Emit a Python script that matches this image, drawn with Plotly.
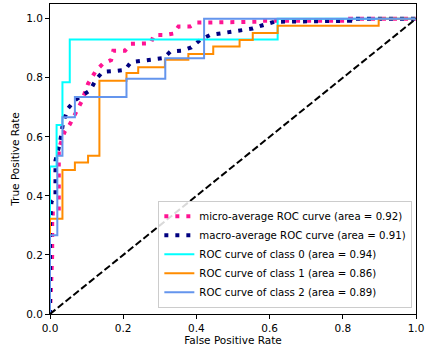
import plotly.graph_objects as go

# ---- data ----
micro_fpr = [0, 0.006, 0.006, 0.024, 0.024, 0.04, 0.054, 0.075, 0.088, 0.104, 0.126, 0.144, 0.167, 0.173, 0.205, 0.221, 0.243, 0.275, 0.284, 0.314, 0.338, 0.351, 0.383, 0.40, 0.576, 0.58, 0.82, 0.82, 1.0]
micro_tpr = [0, 0.20, 0.34, 0.34, 0.56, 0.617, 0.642, 0.696, 0.724, 0.78, 0.825, 0.847, 0.86, 0.892, 0.892, 0.915, 0.917, 0.917, 0.945, 0.945, 0.95, 0.974, 0.974, 0.987, 0.99, 0.993, 0.993, 1.0, 1.0]

macro_fpr = [0, 0.0, 0.004, 0.015, 0.015, 0.027, 0.036, 0.049, 0.068, 0.11, 0.126, 0.144, 0.176, 0.205, 0.221, 0.252, 0.279, 0.311, 0.329, 0.36, 0.386, 0.41, 0.437, 0.467, 0.495, 0.527, 0.554, 0.581, 0.613, 0.82, 0.82, 1.0]
macro_tpr = [0, 0.30, 0.38, 0.40, 0.52, 0.578, 0.65, 0.696, 0.724, 0.758, 0.795, 0.82, 0.823, 0.827, 0.853, 0.859, 0.861, 0.867, 0.889, 0.892, 0.903, 0.928, 0.945, 0.95, 0.956, 0.96, 0.967, 0.978, 0.99, 0.993, 1.0, 1.0]

class0_fpr = [0, 0, 0.018, 0.018, 0.034, 0.034, 0.054, 0.054, 0.622, 0.622, 1.0]
class0_tpr = [0, 0.5, 0.5, 0.64, 0.64, 0.785, 0.785, 0.93, 0.93, 1.0, 1.0]

class1_fpr = [0, 0, 0.034, 0.034, 0.068, 0.068, 0.104, 0.104, 0.135, 0.135, 0.209, 0.209, 0.241, 0.241, 0.314, 0.314, 0.378, 0.378, 0.446, 0.446, 0.518, 0.518, 0.554, 0.554, 0.622, 0.622, 0.898, 0.898, 1.0]
class1_tpr = [0, 0.323, 0.323, 0.488, 0.488, 0.513, 0.513, 0.536, 0.536, 0.79, 0.79, 0.816, 0.816, 0.836, 0.836, 0.861, 0.861, 0.881, 0.881, 0.906, 0.906, 0.928, 0.928, 0.952, 0.952, 0.976, 0.976, 1.0, 1.0]

class2_fpr = [0, 0, 0.02, 0.02, 0.034, 0.034, 0.068, 0.068, 0.209, 0.209, 0.315, 0.315, 0.421, 0.421, 1.0]
class2_tpr = [0, 0.267, 0.267, 0.536, 0.536, 0.666, 0.666, 0.735, 0.735, 0.797, 0.797, 0.866, 0.866, 1.0, 1.0]

labels = [
    "micro-average ROC curve (area = 0.92)",
    "macro-average ROC curve (area = 0.91)",
    "ROC curve of class 0 (area = 0.94)",
    "ROC curve of class 1 (area = 0.86)",
    "ROC curve of class 2 (area = 0.89)",
]
tick_vals = [0, 0.2, 0.4, 0.6, 0.8, 1.0]
tick_text = ["0.0", "0.2", "0.4", "0.6", "0.8", "1.0"]
diag = [0, 1]

FONT = "DejaVu Sans, sans-serif"
FS = 10.5

fig = go.Figure()
fig.add_trace(go.Scatter(x=micro_fpr, y=micro_tpr, mode="lines", name=labels[0],
                         line=dict(color="deeppink", width=4, dash="4px,7px")))
fig.add_trace(go.Scatter(x=macro_fpr, y=macro_tpr, mode="lines", name=labels[1],
                         line=dict(color="navy", width=4, dash="4px,7px")))
fig.add_trace(go.Scatter(x=class0_fpr, y=class0_tpr, mode="lines", name=labels[2],
                         line=dict(color="aqua", width=2)))
fig.add_trace(go.Scatter(x=class1_fpr, y=class1_tpr, mode="lines", name=labels[3],
                         line=dict(color="darkorange", width=2)))
fig.add_trace(go.Scatter(x=class2_fpr, y=class2_tpr, mode="lines", name=labels[4],
                         line=dict(color="cornflowerblue", width=2)))
fig.add_trace(go.Scatter(x=diag, y=diag, mode="lines", showlegend=False,
                         line=dict(color="black", width=2, dash="7px,3px")))

axis_common = dict(showgrid=False, zeroline=False, showline=True, linecolor="black",
                   linewidth=1, mirror=True, ticks="outside", ticklen=4, tickcolor="black",
                   automargin=False, ticklabeloverflow="allow",
                   tickfont=dict(family=FONT, size=FS, color="black"))

fig.update_layout(
    width=425, height=352, autosize=False,
    margin=dict(l=50, r=9, t=4, b=38),
    plot_bgcolor="white", paper_bgcolor="white",
    font=dict(family=FONT, size=FS, color="black"),
    xaxis=dict(range=[0, 1], tickvals=tick_vals, ticktext=tick_text,
               title=dict(text="False Positive Rate", font=dict(family=FONT, size=FS), standoff=4),
               **axis_common),
    yaxis=dict(range=[0, 1.05], tickvals=tick_vals, ticktext=tick_text,
               title=dict(text="True Positive Rate", font=dict(family=FONT, size=FS), standoff=4),
               **axis_common),
    legend=dict(x=0.99, y=0.02, xanchor="right", yanchor="bottom",
                bgcolor="rgba(255,255,255,0.85)", bordercolor="#cccccc", borderwidth=1,
                font=dict(family=FONT, size=10.2, color="black"), tracegroupgap=0,
                itemwidth=30),
)

fig.write_html("out.html", config={"displayModeBar": False},
               post_script="document.body.style.margin='0';document.body.style.overflow='hidden';")
